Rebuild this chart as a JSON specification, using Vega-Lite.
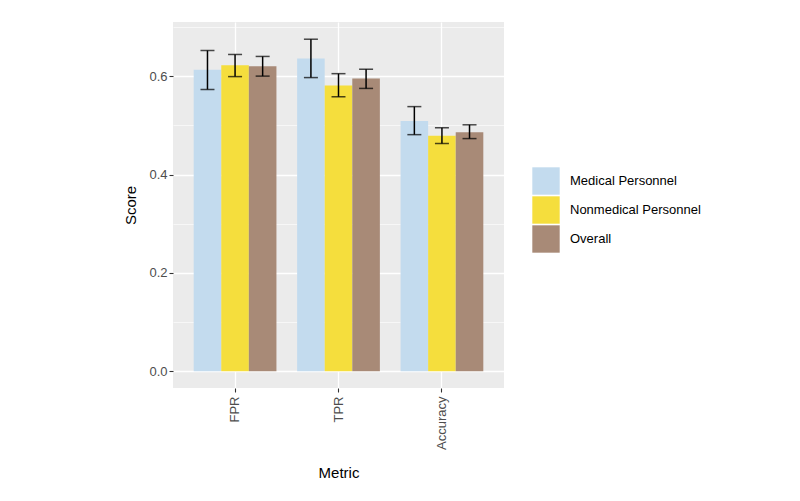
{
  "$schema": "https://vega.github.io/schema/vega-lite/v6.json",
  "width": 331,
  "height": 366,
  "autosize": {"type": "none"},
  "padding": {"left": 173, "top": 22, "right": 296, "bottom": 113},
  "background": "white",
  "config": {
    "font": "Liberation Sans",
    "view": {"fill": "#ebebeb", "stroke": null},
    "axis": {
      "domain": false,
      "gridColor": "white",
      "gridWidth": 1.3,
      "tickColor": "#333333",
      "tickSize": 4,
      "tickWidth": 1.1,
      "labelColor": "#4d4d4d",
      "labelFontSize": 13,
      "labelFont": "Liberation Sans",
      "titleFont": "Liberation Sans",
      "titleFontSize": 15,
      "titleFontWeight": "normal",
      "titleColor": "black"
    },
    "legend": {"labelFont": "Liberation Sans"}
  },
  "data": {
    "values": [
      {"Metric": "FPR", "Group": "Medical Personnel", "Score": 0.613, "Lower": 0.573, "Upper": 0.652},
      {"Metric": "FPR", "Group": "Nonmedical Personnel", "Score": 0.622, "Lower": 0.599, "Upper": 0.644},
      {"Metric": "FPR", "Group": "Overall", "Score": 0.620, "Lower": 0.600, "Upper": 0.640},
      {"Metric": "TPR", "Group": "Medical Personnel", "Score": 0.636, "Lower": 0.597, "Upper": 0.675},
      {"Metric": "TPR", "Group": "Nonmedical Personnel", "Score": 0.581, "Lower": 0.558, "Upper": 0.605},
      {"Metric": "TPR", "Group": "Overall", "Score": 0.595, "Lower": 0.575, "Upper": 0.614},
      {"Metric": "Accuracy", "Group": "Medical Personnel", "Score": 0.509, "Lower": 0.481, "Upper": 0.538},
      {"Metric": "Accuracy", "Group": "Nonmedical Personnel", "Score": 0.479, "Lower": 0.463, "Upper": 0.495},
      {"Metric": "Accuracy", "Group": "Overall", "Score": 0.486, "Lower": 0.473, "Upper": 0.501}
    ]
  },
  "encoding": {
    "x": {
      "field": "Metric",
      "type": "nominal",
      "sort": ["FPR", "TPR", "Accuracy"],
      "scale": {"paddingInner": 0.2, "paddingOuter": 0.2},
      "axis": {"labelAngle": -90, "labelAlign": "right", "labelBaseline": "middle", "labelPadding": 4, "bandPosition": 0.5, "grid": true, "title": "Metric", "titlePadding": 16}
    },
    "xOffset": {
      "field": "Group",
      "type": "nominal",
      "sort": ["Medical Personnel", "Nonmedical Personnel", "Overall"]
    }
  },
  "layer": [
    {
      "mark": {"type": "bar"},
      "encoding": {
        "y": {
          "field": "Score",
          "type": "quantitative",
          "scale": {"domain": [-0.034, 0.71], "nice": false, "zero": false},
          "axis": {"values": [0, 0.2, 0.4, 0.6], "format": ".1f", "title": "Score", "titlePadding": 10}
        },
        "color": {
          "field": "Group",
          "type": "nominal",
          "scale": {"domain": ["Medical Personnel", "Nonmedical Personnel", "Overall"], "range": ["#c3dbee", "#f5de3d", "#a88a77"]},
          "legend": {
            "title": null,
            "orient": "none",
            "legendX": 359,
            "legendY": 145,
            "symbolType": "square",
            "symbolSize": 750,
            "symbolStrokeWidth": 0,
            "symbolOpacity": 1,
            "labelFontSize": 13,
            "labelColor": "black",
            "labelOffset": 10,
            "rowPadding": 1
          }
        }
      }
    },
    {
      "mark": {"type": "rule", "color": "black", "strokeWidth": 1.5},
      "encoding": {
        "y": {"field": "Lower", "type": "quantitative", "axis": {"orient": "right", "values": [0.1, 0.3, 0.5, 0.7], "grid": true, "gridWidth": 0.6, "labels": false, "ticks": false, "domain": false, "title": null}},
        "y2": {"field": "Upper"}
      }
    },
    {
      "mark": {"type": "tick", "color": "black", "thickness": 1.5, "size": 14, "orient": "horizontal"},
      "encoding": {
        "y": {"field": "Lower", "type": "quantitative", "axis": null}
      }
    },
    {
      "mark": {"type": "tick", "color": "black", "thickness": 1.5, "size": 14, "orient": "horizontal"},
      "encoding": {
        "y": {"field": "Upper", "type": "quantitative", "axis": null}
      }
    }
  ],
  "resolve": {"axis": {"y": "independent"}}
}
